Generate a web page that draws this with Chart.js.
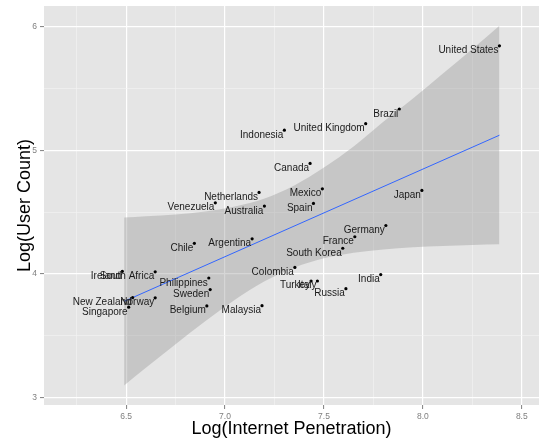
<!DOCTYPE html>
<html>
<head>
<meta charset="utf-8">
<script src="https://cdn.jsdelivr.net/npm/chart.js@4/dist/chart.umd.min.js"></script>
<style>
  body { margin: 0; background: #fff; }
  canvas { display: block; }
</style>
</head>
<body>
<canvas id="chart" width="539" height="443"></canvas>
<script>
// country points
const countries = ["United States", "Brazil", "United Kingdom", "Indonesia", "Canada", "Mexico",
    "Spain", "Netherlands", "Venezuela", "Australia", "Japan", "Germany", "France", "South Korea",
    "Argentina", "Chile", "Colombia", "India", "Italy", "Turkey", "Russia", "Malaysia",
    "South Africa", "Ireland", "Philippines", "Sweden", "Belgium", "Norway", "New Zealand", "Singapore"];
const penetration = [8.387, 7.881, 7.711, 7.300, 7.430, 7.492, 7.447, 7.172, 6.951, 7.199, 7.995,
    7.813, 7.656, 7.595, 7.137, 6.845, 7.353, 7.787, 7.467, 7.435, 7.611, 7.187,
    6.647, 6.481, 6.918, 6.925, 6.908, 6.647, 6.533, 6.513];
const userCount = [5.846, 5.334, 5.215, 5.163, 4.894, 4.688, 4.570, 4.659, 4.575, 4.548, 4.675,
    4.391, 4.300, 4.207, 4.283, 4.247, 4.052, 3.994, 3.942, 3.942, 3.880, 3.742,
    4.016, 4.020, 3.966, 3.872, 3.740, 3.806, 3.808, 3.730];

// linear fit and its confidence band
const fitX = [6.49, 8.387];
const fitY = [3.777, 5.122];
const bandX = [6.49, 6.6, 6.75, 6.9, 7.05, 7.2, 7.35, 7.5, 7.65, 7.8, 7.95, 8.1, 8.25, 8.387];
const bandUpper = [4.455, 4.465, 4.48, 4.505, 4.545, 4.61, 4.715, 4.86, 5.03, 5.23, 5.42, 5.62, 5.82, 6.008];
const bandLower = [3.096, 3.24, 3.43, 3.615, 3.79, 3.94, 4.05, 4.125, 4.17, 4.197, 4.215, 4.226, 4.234, 4.24];

// axes
const xTicks = [6.25, 6.5, 6.75, 7.0, 7.25, 7.5, 7.75, 8.0, 8.25, 8.5];
const xLabelled = [6.5, 7.0, 7.5, 8.0, 8.5];
const yTicks = [3, 3.5, 4, 4.5, 5, 5.5, 6];
const yLabelled = [3, 4, 5, 6];

const fontFamily = '"Liberation Sans", Arial, Helvetica, sans-serif';
Chart.defaults.font.family = fontFamily;

function pairs(xs, ys) {
    return xs.map((x, i) => ({x: x, y: ys[i]}));
}

let panelBg = {
    id: "panelBg",
    beforeDraw(chart) {
        let a = chart.chartArea;
        let ctx = chart.ctx;
        ctx.save();
        ctx.fillStyle = "#e5e5e5";
        ctx.fillRect(a.left, a.top, a.right - a.left, a.bottom - a.top);
        ctx.restore();
    }
};

let countryLabels = {
    id: "countryLabels",
    afterDatasetsDraw(chart) {
        let ctx = chart.ctx;
        let meta = chart.getDatasetMeta(0);
        ctx.save();
        ctx.font = "10px " + fontFamily;
        ctx.fillStyle = "#1a1a1a";
        ctx.textAlign = "right";
        ctx.textBaseline = "alphabetic";
        meta.data.forEach((pt, i) => {
            ctx.fillText(countries[i], pt.x - 1, pt.y + 7.5);
        });
        ctx.restore();
    }
};

function gridColor(labelled) {
    return c => labelled.includes(c.tick.value) ? "#ffffff" : "#f3f3f3";
}
function gridWidth(labelled) {
    return c => labelled.includes(c.tick.value) ? 1.2 : 0.6;
}
function tickColor(labelled) {
    return c => labelled.includes(c.tick.value) ? "#7f7f7f" : "rgba(0,0,0,0)";
}

new Chart("chart", {
    type: "scatter",
    data: {
        datasets: [
            {
                data: pairs(penetration, userCount),
                backgroundColor: "#000",
                borderColor: "#000",
                pointRadius: 1.6,
                borderWidth: 0,
                order: 0
            },
            {
                type: "line",
                data: pairs(fitX, fitY),
                borderColor: "#3366ff",
                borderWidth: 1,
                pointRadius: 0,
                fill: false,
                order: 1
            },
            {
                type: "line",
                data: pairs(bandX, bandUpper),
                borderWidth: 0,
                borderColor: "rgba(0,0,0,0)",
                pointRadius: 0,
                tension: 0.3,
                cubicInterpolationMode: "monotone",
                fill: false,
                order: 2
            },
            {
                type: "line",
                data: pairs(bandX, bandLower),
                borderWidth: 0,
                borderColor: "rgba(0,0,0,0)",
                backgroundColor: "rgba(153,153,153,0.4)",
                pointRadius: 0,
                tension: 0.3,
                cubicInterpolationMode: "monotone",
                fill: "-1",
                order: 3
            }
        ]
    },
    options: {
        responsive: false,
        animation: false,
        events: [],
        layout: {
            autoPadding: false,
            padding: {top: 6, right: 0, left: 0, bottom: 0}
        },
        plugins: {
            legend: {display: false},
            tooltip: {enabled: false}
        },
        scales: {
            x: {
                type: "linear",
                min: 6.085,
                max: 8.587,
                afterBuildTicks: s => { s.ticks = xTicks.map(v => ({value: v})); },
                afterFit: s => {
                    s.height = 38;
                    s.paddingLeft = 0;
                    s.paddingRight = 0;
                },
                border: {display: false},
                grid: {
                    color: gridColor(xLabelled),
                    lineWidth: gridWidth(xLabelled),
                    tickColor: tickColor(xLabelled),
                    tickLength: 4,
                    tickWidth: 1
                },
                ticks: {
                    autoSkip: false,
                    maxRotation: 0,
                    padding: 3,
                    color: "#7f7f7f",
                    font: {size: 8.5},
                    callback: v => xLabelled.includes(v) ? v.toFixed(1) : ""
                },
                title: {
                    display: true,
                    text: "Log(Internet Penetration)",
                    color: "#000",
                    font: {size: 18},
                    padding: {top: 0, bottom: 3}
                }
            },
            y: {
                type: "linear",
                min: 2.938,
                max: 6.168,
                afterBuildTicks: s => { s.ticks = yTicks.map(v => ({value: v})); },
                afterFit: s => {
                    s.width = 44;
                    s.paddingTop = 0;
                    s.paddingBottom = 0;
                },
                border: {display: false},
                grid: {
                    color: gridColor(yLabelled),
                    lineWidth: gridWidth(yLabelled),
                    tickColor: tickColor(yLabelled),
                    tickLength: 4,
                    tickWidth: 1
                },
                ticks: {
                    autoSkip: false,
                    padding: 3,
                    color: "#7f7f7f",
                    font: {size: 8.5},
                    callback: v => yLabelled.includes(v) ? String(v) : ""
                },
                title: {
                    display: true,
                    text: "Log(User Count)",
                    color: "#000",
                    font: {size: 18},
                    padding: {top: 14, bottom: 0}
                }
            }
        }
    },
    plugins: [panelBg, countryLabels]
});
</script>
</body>
</html>
